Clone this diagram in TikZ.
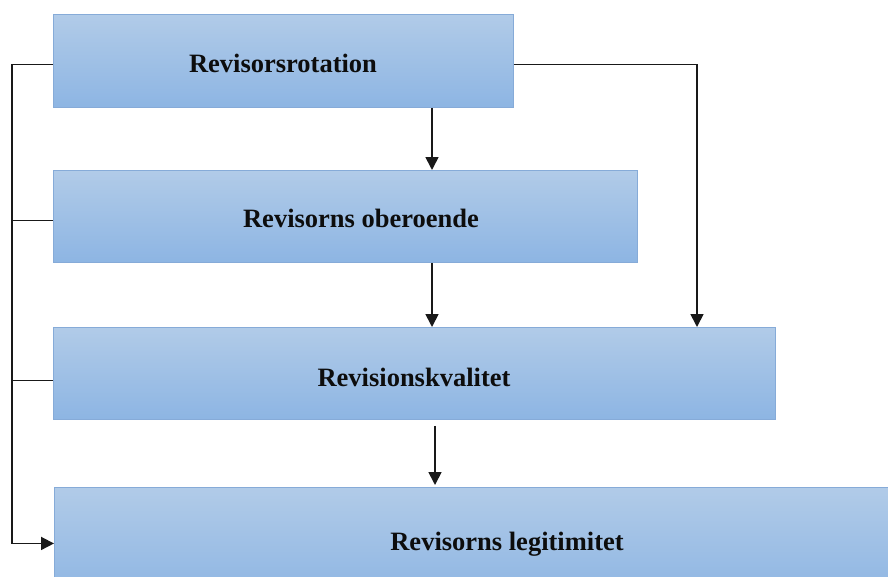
\documentclass[tikz,border=0pt]{standalone}
\usepackage{fontspec}
\setmainfont{Liberation Serif}
\usetikzlibrary{arrows.meta,calc}
\definecolor{boxtop}{HTML}{B1CBE8}
\definecolor{boxbot}{HTML}{8DB5E3}
\definecolor{boxline}{HTML}{86ABD8}
\tikzset{
  box/.style={rectangle, draw=boxline, line width=0.9pt, top color=boxtop, bottom color=boxbot, anchor=north west, inner sep=0pt},
  lbl/.style={font=\fontsize{26.5}{31}\selectfont\bfseries, text=black!95, inner sep=0pt},
  conn/.style={line width=1.7pt, black!90},
  arr/.style={conn, -{Triangle[length=13pt,width=13pt]}}
}
\begin{document}
\begin{tikzpicture}[x=1pt,y=-1pt]
\useasboundingbox (0,0) rectangle (888,576);
\clip (0,0) rectangle (888,576);
\fill[white] (0,0) rectangle (888,576);
\node[box, minimum width=460pt, minimum height=93pt] (b1) at (53,14) {};
\node[box, minimum width=584pt, minimum height=92pt] (b2) at (53,170) {};
\node[box, minimum width=722pt, minimum height=92pt] (b3) at (53,327) {};
\node[box, minimum width=900pt, minimum height=112pt] (b4) at (54,487) {};
\node[lbl] (t1) at (283,63) {Revisorsrotation};
\node[lbl] (t2) at (361,218) {Revisorns oberoende};
\node[lbl] (t3) at (414,377) {Revisionskvalitet};
\node[lbl] (t4) at (507,544) {Revisorns legitimitet};
\coordinate (L) at (12,0);
\coordinate (M) at (432,0);
\coordinate (M2) at (435,0);
\coordinate (R) at (697,0);
\coordinate (p1) at ([yshift=-3.5pt]b1.west);
\coordinate (p1e) at ([yshift=-3.5pt]b1.east);
\coordinate (p2) at ([yshift=-4pt]b2.west);
\coordinate (p3) at ([yshift=-7pt]b3.west);
\coordinate (q3) at ([yshift=-6pt]M2 |- b3.south);
\coordinate (q4) at ([yshift=2pt]M2 |- b4.north);
\draw[arr] (p1) -- (L |- p1) -- (L |- b4.west) -- (b4.west);
\draw[conn] (p2) -- (L |- p2);
\draw[conn] (p3) -- (L |- p3);
\draw[arr] (M |- b1.south) -- (M |- b2.north);
\draw[arr] (M |- b2.south) -- (M |- b3.north);
\draw[arr] (p1e) -| (R |- b3.north);
\draw[arr] (q3) -- (q4);
\end{tikzpicture}
\end{document}
